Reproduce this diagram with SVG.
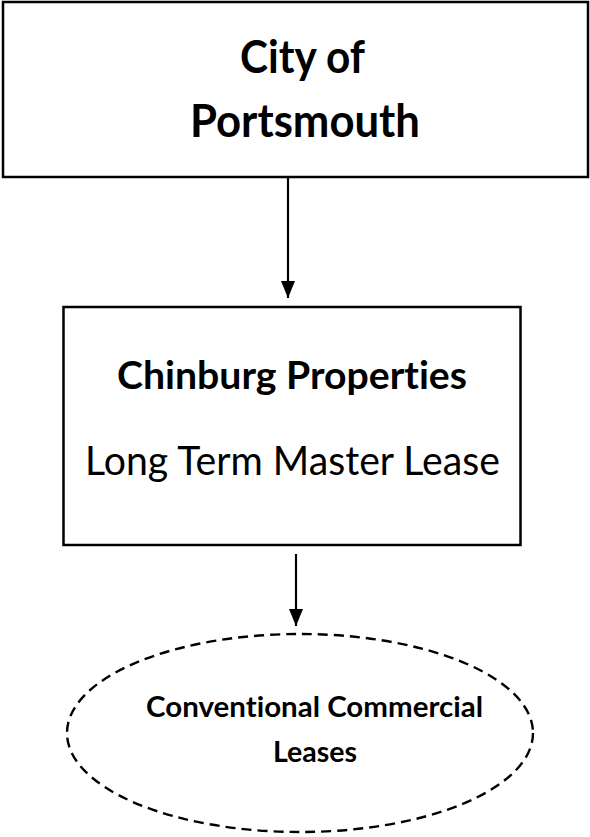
<svg xmlns="http://www.w3.org/2000/svg" width="590" height="837" viewBox="0 0 590 837">
<style>
.box{fill:#fff;stroke:#000;stroke-width:2.5}
.ell{fill:none;stroke:#000;stroke-width:2.4;stroke-dasharray:10 6}
.con{stroke:#000;stroke-width:2.2;fill:none;marker-end:url(#ah)}
text{font-family:Lato,"Open Sans","Liberation Sans",sans-serif;fill:#000;text-anchor:middle;font-variant-ligatures:none;font-feature-settings:"liga" 0,"clig" 0,"dlig" 0}
.b{font-weight:bold}
</style>
<defs>
<marker id="ah" markerWidth="17" markerHeight="14" refX="17" refY="7" orient="auto" markerUnits="userSpaceOnUse" viewBox="0 0 17 14">
<path d="M0,0 L17,7 L0,14 Z" fill="#000"/>
</marker>
</defs>
<rect width="590" height="837" fill="#fff"/>
<g id="connectors">
<line class="con" x1="288" y1="178" x2="288" y2="298"/>
<line class="con" x1="296" y1="554" x2="296" y2="626"/>
</g>
<g id="city">
<rect class="box" x="3" y="2" width="585" height="175"/>
<text class="b" x="302.5" y="73" font-size="45" textLength="125" lengthAdjust="spacingAndGlyphs">City of</text>
<text class="b" x="305" y="137" font-size="45" textLength="230" lengthAdjust="spacingAndGlyphs">Portsmouth</text>
</g>
<g id="chinburg">
<rect class="box" x="63.5" y="307" width="457" height="238"/>
<text class="b" x="292" y="389" font-size="39" textLength="350" lengthAdjust="spacingAndGlyphs">Chinburg Properties</text>
<text x="292.5" y="475" font-size="40" textLength="415" lengthAdjust="spacingAndGlyphs">Long Term Master Lease</text>
</g>
<g id="leases">
<ellipse class="ell" cx="300" cy="733" rx="233" ry="99"/>
<text class="b" x="314.5" y="717" font-size="29" textLength="337" lengthAdjust="spacingAndGlyphs">Conventional Commercial</text>
<text class="b" x="315" y="762" font-size="29" textLength="84" lengthAdjust="spacingAndGlyphs">Leases</text>
</g>
</svg>
